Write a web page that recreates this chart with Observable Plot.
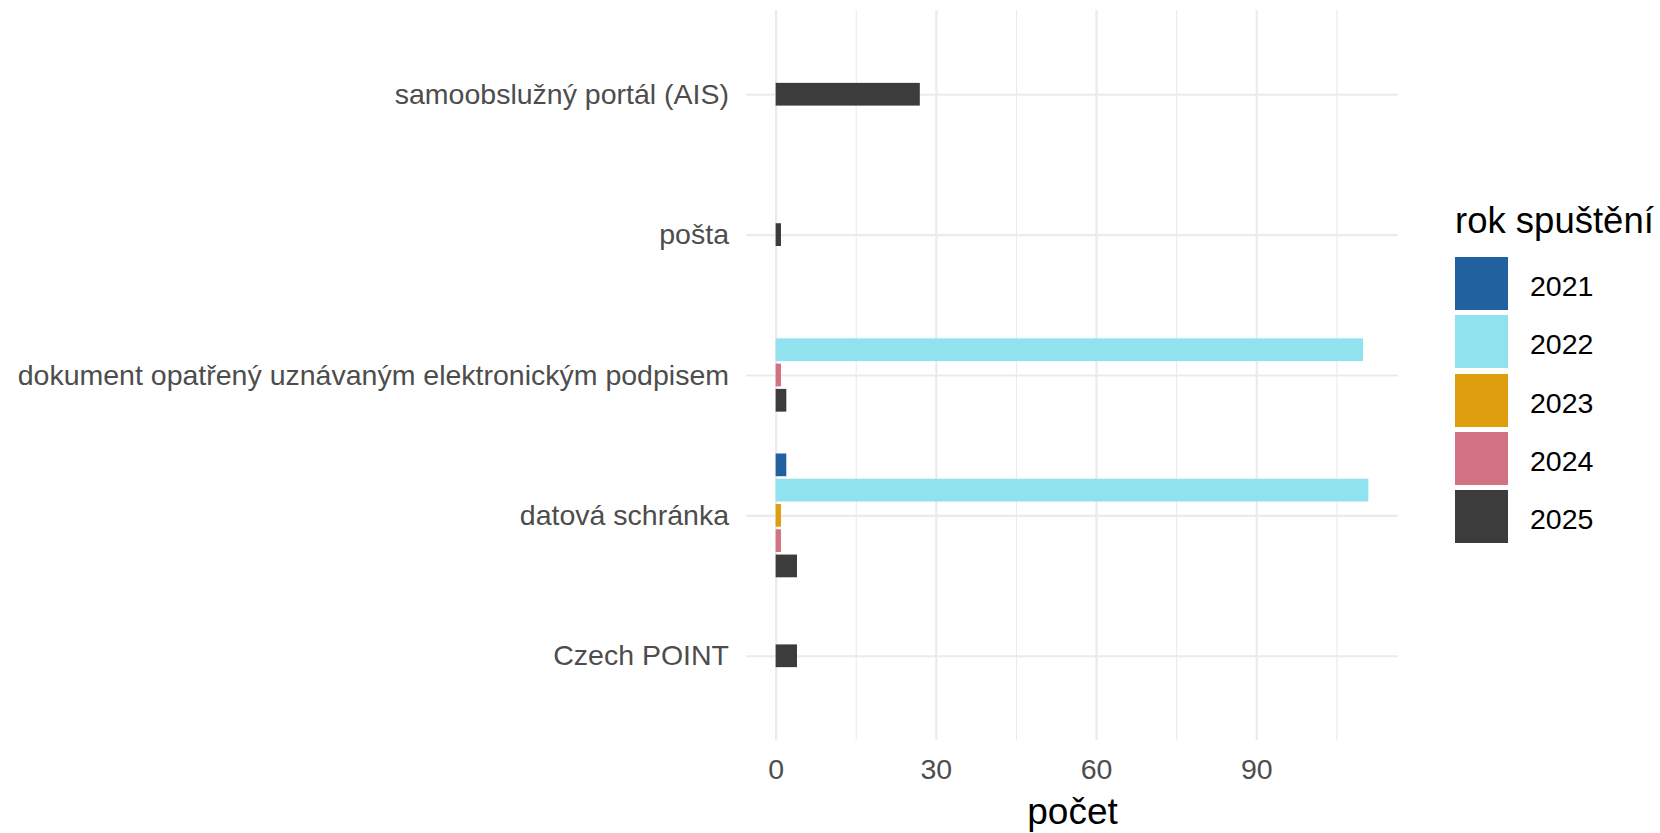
<!DOCTYPE html>
<html>
<head>
<meta charset="utf-8">
<script src="https://cdn.jsdelivr.net/npm/d3@7"></script>
<script src="https://cdn.jsdelivr.net/npm/@observablehq/plot@0.6"></script>
<style>
  html, body { margin: 0; padding: 0; background: #fff; }
  #wrap { position: relative; width: 1660px; height: 833px; font-family: "Liberation Sans", Arial, sans-serif; }
  #legend { position: absolute; left: 1455px; top: 0; }
  .ltitle { position: absolute; left: 0; top: 203px; font-size: 36.5px; white-space: nowrap; color: #000; line-height: 1; }
  .lkey { position: absolute; left: 0; width: 53px; height: 53px; }
  .llab { position: absolute; left: 75px; font-size: 28.5px; color: #000; line-height: 53px; white-space: nowrap; margin-top: 3px; }
</style>
</head>
<body>
<div id="wrap"><div id="chart"></div><div id="legend"></div></div>
<script>
// Categories, bottom to top as drawn
const categories = [
  "Czech POINT",
  "datová schránka",
  "dokument opatřený uznávaným elektronickým podpisem",
  "pošta",
  "samoobslužný portál (AIS)"
];
const years = ["2021", "2022", "2023", "2024", "2025"];
const yearColors = ["#22619F", "#90E2EE", "#DF9E0D", "#D27384", "#3C3C3C"];

// Bars: category, year, count
const rowCategory = [
  "samoobslužný portál (AIS)",
  "pošta",
  "dokument opatřený uznávaným elektronickým podpisem",
  "dokument opatřený uznávaným elektronickým podpisem",
  "dokument opatřený uznávaným elektronickým podpisem",
  "datová schránka",
  "datová schránka",
  "datová schránka",
  "datová schránka",
  "datová schránka",
  "Czech POINT"
];
const rowYear = ["2025", "2025", "2022", "2024", "2025", "2021", "2022", "2023", "2024", "2025", "2025"];
const rowCount = [27, 1, 110, 1, 2, 2, 111, 1, 1, 4, 4];

const xTicks = [0, 30, 60, 90];
const xMinor = [15, 45, 75, 105];
const xLabel = "počet";
const legendTitle = "rok spuštění";

// dodge2-like layout: bars centred on their category, 0.9 / 5 slot each, 10% padding
const slot = 0.9 / years.length;
const data = rowCategory.map((c, i) => ({category: c, year: rowYear[i], count: rowCount[i]}));
for (const c of categories) {
  const group = data.filter(d => d.category === c).sort((a, b) => a.year.localeCompare(b.year));
  const n = group.length;
  const idx = categories.indexOf(c);
  group.forEach((d, k) => {
    const center = idx + (n - 1) / 2 * slot - k * slot;
    d.y1 = center - slot * 0.45;
    d.y2 = center + slot * 0.45;
  });
}

const maxV = d3.max(rowCount);
const chart = Plot.plot({
  width: 1660,
  height: 833,
  marginLeft: 746,
  marginRight: 262,
  marginTop: 10,
  marginBottom: 93,
  style: {fontFamily: '"Liberation Sans", Arial, sans-serif', background: "#fff"},
  x: {domain: [-0.05 * maxV, 1.05 * maxV]},
  y: {domain: [-0.6, categories.length - 0.4]},
  color: {domain: years, range: yearColors},
  marks: [
    Plot.gridX(xMinor, {stroke: "#EBEBEB", strokeOpacity: 1, strokeWidth: 1.1}),
    Plot.gridX(xTicks, {stroke: "#EBEBEB", strokeOpacity: 1, strokeWidth: 2.2}),
    Plot.gridY(d3.range(categories.length), {stroke: "#EBEBEB", strokeOpacity: 1, strokeWidth: 2.2}),
    Plot.rect(data, {x1: () => 0, x2: "count", y1: "y1", y2: "y2", fill: "year"}),
    Plot.axisX(xTicks, {tickSize: 0, tickPadding: 18.5, fontSize: 28.5, fill: "#4D4D4D", label: null}),
    Plot.axisY(d3.range(categories.length), {tickSize: 0, tickPadding: 17.5, fontSize: 28.5, fill: "#4D4D4D",
      tickFormat: i => categories[i], label: null}),
    Plot.text([xLabel], {text: d => d, frameAnchor: "bottom", dy: 83, fontSize: 37, fill: "#000"})
  ]
});
document.getElementById("chart").appendChild(chart);

// Legend
const legend = document.getElementById("legend");
const t = document.createElement("div");
t.className = "ltitle";
t.textContent = legendTitle;
legend.appendChild(t);
years.forEach((y, i) => {
  const top = 257 + i * 58.3;
  const k = document.createElement("div");
  k.className = "lkey";
  k.style.top = top + "px";
  k.style.background = yearColors[i];
  legend.appendChild(k);
  const l = document.createElement("div");
  l.className = "llab";
  l.style.top = top + "px";
  l.textContent = y;
  legend.appendChild(l);
});
</script>
</body>
</html>
